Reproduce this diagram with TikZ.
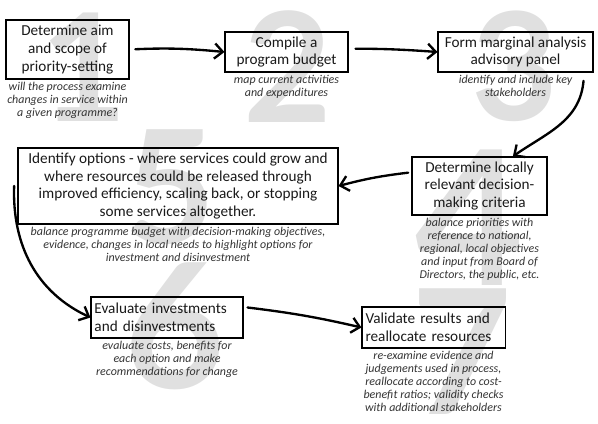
\documentclass[tikz,border=0pt]{standalone}
\usepackage{fontspec}
\setmainfont{Carlito}
\newfontfamily\digitfont{Lato}
\usetikzlibrary{arrows.meta,positioning}
\tikzset{
    stepbox/.style={draw, line width=0.9pt, inner sep=3pt, align=center,
                    text=black!90, font=\fontsize{13}{15}\selectfont},
    leftbox/.style={stepbox, align=left},
    note/.style={font=\fontsize{10.2}{11.2}\selectfont\itshape, align=center,
                 text=black!80, inner sep=1pt},
    brush/.style={-{Straight Barb[length=7pt,width=13pt]}, line width=2pt,
                  line cap=round},
    bignum/.style={font=\digitfont\bfseries\fontsize{128}{128}\selectfont,
                   text=black!12, inner sep=0pt},
}

\begin{document}
\begin{tikzpicture}[x=0.03cm, y=-0.03cm]
    \path[use as bounding box] (0,0) rectangle (598,423);

    % big step numbers behind everything
    \foreach \d/\x/\y/\s in {1/84/67/1, 2/288/67/1.02, 3/515/66/1,
                             4/470/218/1.25, 5/170/187/1.05,
                             6/175/326/1.16, 7/462/352/1.16} {
        \node[bignum, scale=\s] (num\d) at (\x,\y) {\d};
    }

    % steps
    \node[stepbox, minimum width=3.69cm, minimum height=1.77cm] (aim) at (67.5,49.5)
        {Determine aim\\and scope of\\priority-setting};
    \node[stepbox, minimum width=3.69cm, minimum height=1.2cm] (budget) at (286.5,52)
        {Compile a\\program budget};
    \node[stepbox, minimum width=4.65cm, minimum height=1.2cm] (panel) at (515.5,52)
        {Form marginal analysis\\advisory panel};
    \node[stepbox, minimum width=4.05cm, minimum height=1.74cm] (criteria) at (479.5,186)
        {Determine locally\\relevant decision-\\making criteria};
    \node[stepbox, minimum width=9.6cm, minimum height=2.28cm] (options) at (178,186)
        {Identify options - where services could grow and\\
         where resources could be released through\\
         improved efficiency, scaling back, or stopping\\
         some services altogether.};
    \node[leftbox, text width=4.35cm, minimum height=1.23cm] (evaluate) at (167,317.5)
        {Evaluate investments\\and disinvestments};
    \node[leftbox, text width=4.08cm, minimum height=1.23cm] (validate) at (433.5,327.5)
        {Validate results and\\reallocate resources};

    % notes under the steps
    \node[note, below=1pt of aim] (aimnote)
        {will the process examine\\changes in service within\\a given programme?};
    \node[note, below=1pt of budget] (budgetnote)
        {map current activities\\and expenditures};
    \node[note, below=1pt of panel] (panelnote)
        {identify and include key\\stakeholders};
    \node[note, below=1pt of criteria] (criterianote)
        {balance priorities with\\reference to national,\\regional, local objectives\\
         and input from Board of\\Directors, the public, etc.};
    \node[note, below=1pt of options] (optionsnote)
        {balance programme budget with decision-making objectives,\\
         evidence, changes in local needs to highlight options for\\
         investment and disinvestment};
    \node[note, below=1pt of evaluate] (evaluatenote)
        {evaluate costs, benefits for\\each option and make\\recommendations for change};
    \node[note, below=1pt of validate] (validatenote)
        {re-examine evidence and\\judgements used in process,\\reallocate according to cost-\\
         benefit ratios; validity checks\\with additional stakeholders};

    % arrows
    \draw[brush, shorten <=5pt] (aim.east) to[bend left=4] (budget.west);
    \draw[brush, shorten <=6pt] ([yshift=0.1cm]budget.east) to[bend left=2] (panel.west);
    \draw[brush] ([xshift=-0.3cm,yshift=-0.25cm]panel.south east)
        to[out=-95, in=35] ([xshift=1cm]criteria.north);
    \draw[brush] ([xshift=-0.1cm,yshift=0.4cm]criteria.west)
        to[bend right=4] (options.east);
    \draw[brush] ([xshift=-0.1cm]options.west) to[out=-92, in=155] (evaluate.west);
    \draw[brush] ([xshift=0.12cm,yshift=0.3cm]evaluate.east)
        to[bend left=3] (validate.west);
\end{tikzpicture}
\end{document}
